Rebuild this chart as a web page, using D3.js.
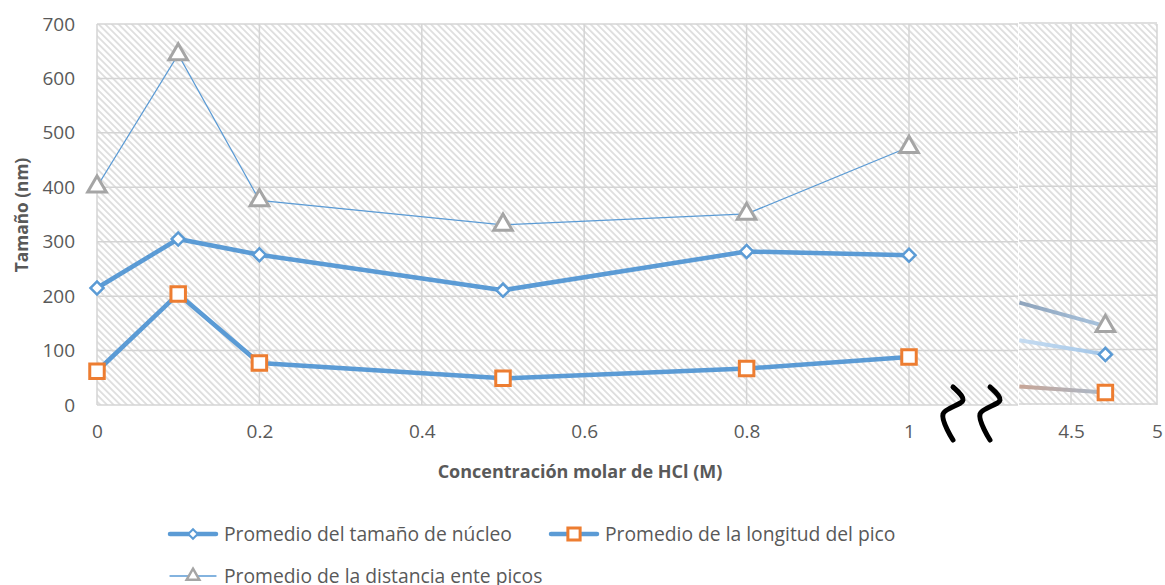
<!DOCTYPE html>
<html>
<head>
<meta charset="utf-8">
<script src="https://cdn.jsdelivr.net/npm/d3@7"></script>
<style>
  body { margin: 0; background: #fff; }
  text { font-family: "Open Sans", sans-serif; }
</style>
</head>
<body>
<div id="wrapper"></div>
<script>
// data
const concentrations = [0, 0.1, 0.2, 0.5, 0.8, 1]
const nucleo = [215, 305, 276, 211, 282, 275]
const longitudPico = [62, 204, 77, 49, 67, 88]
const distanciaPicos = [401, 644, 376, 331, 351, 474]

// the lone point after the axis break, plus where its stubs enter the panel
const farConcentration = 4.7
const farStartConcentration = 4.2
const farNucleo = [119, 93]
const farLongitud = [34, 23]
const farDistancia = [188, 145]

const yTicks = [0, 100, 200, 300, 400, 500, 600, 700]
const xTicksMain = [0, 0.2, 0.4, 0.6, 0.8, 1]
const xTicksFar = [4.5, 5]
const seriesNames = [
  "Promedio del tamaño de núcleo",
  "Promedio de la longitud del pico",
  "Promedio de la distancia ente picos"
]

async function drawChart() {
  const dimensions = {
    width: 1165,
    height: 585,
    left: 97,
    top: 24,
    bottom: 405,
    mainRight: 1018,
    farLeft: 1019,
    farRight: 1157,
  }

  const blue = "#5b9bd5"
  const orange = "#ed7d31"
  const grey = "#a5a5a5"
  const labelColor = "#595959"

  const svg = d3.select("#wrapper")
    .append("svg")
      .attr("width", dimensions.width)
      .attr("height", dimensions.height)

  const defs = svg.append("defs")
  const hatch = defs.append("pattern")
      .attr("id", "hatch")
      .attr("patternUnits", "userSpaceOnUse")
      .attr("width", 4.7)
      .attr("height", 10)
      .attr("patternTransform", "rotate(-45)")
  hatch.append("rect")
      .attr("width", 4.7).attr("height", 10).attr("fill", "#fff")
  hatch.append("rect")
      .attr("width", 1.8).attr("height", 10).attr("fill", "#dedede")

  // scales
  const yScale = d3.scaleLinear()
      .domain([0, 700])
      .range([dimensions.bottom, dimensions.top])
  const xMain = d3.scaleLinear()
      .domain([0, 1])
      .range([dimensions.left, 909])
  const xFar = d3.scaleLinear()
      .domain([4.5, 5])
      .range([1071, dimensions.farRight])

  // background panels
  svg.append("rect")
      .attr("x", dimensions.left)
      .attr("y", dimensions.top)
      .attr("width", dimensions.mainRight - dimensions.left)
      .attr("height", dimensions.bottom - dimensions.top)
      .attr("fill", "url(#hatch)")
  svg.append("rect")
      .attr("x", dimensions.farLeft)
      .attr("y", dimensions.top)
      .attr("width", dimensions.farRight - dimensions.farLeft)
      .attr("height", dimensions.bottom - dimensions.top)
      .attr("fill", "url(#hatch)")

  // gridlines
  const grid = svg.append("g")
      .attr("stroke", "#d4d4d4")
      .attr("stroke-width", 1.5)
  grid.selectAll(".hMain")
    .data(yTicks)
    .join("line")
      .attr("x1", dimensions.left)
      .attr("x2", dimensions.mainRight)
      .attr("y1", d => yScale(d))
      .attr("y2", d => yScale(d))
  grid.selectAll(".hFar")
    .data(yTicks)
    .join("line")
      .attr("class", "hFar")
      .attr("x1", dimensions.farLeft)
      .attr("x2", dimensions.farRight)
      .attr("y1", d => yScale(d) - 1)
      .attr("y2", d => yScale(d) - 1)
  grid.selectAll(".vMain")
    .data(xTicksMain)
    .join("line")
      .attr("class", "vMain")
      .attr("x1", d => xMain(d))
      .attr("x2", d => xMain(d))
      .attr("y1", dimensions.top)
      .attr("y2", dimensions.bottom)
  grid.selectAll(".vFar")
    .data(xTicksFar)
    .join("line")
      .attr("class", "vFar")
      .attr("x1", d => xFar(d))
      .attr("x2", d => xFar(d))
      .attr("y1", dimensions.top)
      .attr("y2", dimensions.bottom)

  // axes (labels only)
  const fmt = d3.format("~g")
  const yAxis = svg.append("g")
      .attr("transform", `translate(${dimensions.left},0)`)
      .call(d3.axisLeft(yScale).tickValues(yTicks).tickSize(0).tickPadding(22))
  const xAxisMain = svg.append("g")
      .attr("transform", `translate(0,${dimensions.bottom})`)
      .call(d3.axisBottom(xMain).tickValues(xTicksMain).tickFormat(fmt).tickSize(0).tickPadding(20))
  const xAxisFar = svg.append("g")
      .attr("transform", `translate(0,${dimensions.bottom})`)
      .call(d3.axisBottom(xFar).tickValues(xTicksFar).tickFormat(fmt).tickSize(0).tickPadding(20))
  ;[yAxis, xAxisMain, xAxisFar].forEach(axis => {
    axis.select(".domain").remove()
    axis.selectAll("text")
        .attr("fill", labelColor)
        .style("font-size", "19px")
        .style("font-family", "Open Sans, sans-serif")
  })

  // axis titles
  svg.append("text")
      .attr("transform", "translate(28,215) rotate(-90)")
      .attr("text-anchor", "middle")
      .attr("fill", labelColor)
      .style("font-size", "17.3px")
      .style("font-weight", "bold")
      .text("Tamaño (nm)")
  svg.append("text")
      .attr("x", 580)
      .attr("y", 478)
      .attr("text-anchor", "middle")
      .attr("fill", labelColor)
      .style("font-size", "18px")
      .style("font-weight", "bold")
      .text("Concentración molar de HCl (M)")

  // break marks
  const squiggle = d3.line().curve(d3.curveCatmullRom)
  const squiggleShape = [[0, 0], [10, 13], [-10, 27], [0, 53]]
  ;[44, 81].forEach(offset => {
    const x0 = xMain(1) + offset
    const y0 = yScale(0) - 18
    svg.append("path")
        .attr("d", squiggle(squiggleShape.map(([dx, dy]) => [x0 + dx, y0 + dy])))
        .attr("fill", "none")
        .attr("stroke", "#000")
        .attr("stroke-width", 5)
        .attr("stroke-linecap", "round")
  })

  // series lines (main panel)
  const lineGen = values => d3.line()
      .x((d, i) => xMain(concentrations[i]))
      .y(d => yScale(d))(values)

  svg.append("path")
      .attr("d", lineGen(distanciaPicos))
      .attr("fill", "none")
      .attr("stroke", blue)
      .attr("stroke-width", 1.3)
  svg.append("path")
      .attr("d", lineGen(nucleo))
      .attr("fill", "none")
      .attr("stroke", blue)
      .attr("stroke-width", 4.5)
      .attr("stroke-linejoin", "round")
  svg.append("path")
      .attr("d", lineGen(longitudPico))
      .attr("fill", "none")
      .attr("stroke", blue)
      .attr("stroke-width", 4.5)
      .attr("stroke-linejoin", "round")

  // stubs in the far panel (faded pieces of the cut-out lines)
  const stubs = [
    {values: farDistancia, from: "#8ea3bb", to: "#a9c4de", id: "gDist"},
    {values: farNucleo, from: "#c6dcf1", to: "#a3c6e8", id: "gNuc"},
    {values: farLongitud, from: "#c7a596", to: "#a9b9cb", id: "gLon"},
  ]
  stubs.forEach(s => {
    const g = defs.append("linearGradient")
        .attr("id", s.id)
        .attr("gradientUnits", "userSpaceOnUse")
        .attr("x1", xFar(farStartConcentration)).attr("x2", xFar(farConcentration))
        .attr("y1", 0).attr("y2", 0)
    g.append("stop").attr("offset", 0).attr("stop-color", s.from)
    g.append("stop").attr("offset", 1).attr("stop-color", s.to)
    svg.append("line")
        .attr("x1", xFar(farStartConcentration))
        .attr("y1", yScale(s.values[0]))
        .attr("x2", xFar(farConcentration))
        .attr("y2", yScale(s.values[1]))
        .attr("stroke", `url(#${s.id})`)
        .attr("stroke-width", 4)
  })

  // markers (diamond = rotated square, like Excel)
  const diamond = d3.symbol().type(d3.symbolSquare).size(85)
  const square = d3.symbol().type(d3.symbolSquare).size(210)
  const triangle = d3.symbol().type(d3.symbolTriangle).size(150)

  const drawMarkers = (points, sym, stroke, width, rot) => {
    svg.append("g").selectAll("path")
      .data(points)
      .join("path")
        .attr("transform", d => `translate(${d[0]},${d[1]}) rotate(${rot})`)
        .attr("d", sym)
        .attr("fill", "#fff")
        .attr("stroke", stroke)
        .attr("stroke-width", width)
  }
  const mainPts = values => values.map((v, i) => [xMain(concentrations[i]), yScale(v)])
  drawMarkers(mainPts(distanciaPicos).concat([[xFar(farConcentration), yScale(farDistancia[1])]]), triangle, grey, 3, 0)
  drawMarkers(mainPts(nucleo).concat([[xFar(farConcentration), yScale(farNucleo[1])]]), diamond, blue, 2.5, 45)
  drawMarkers(mainPts(longitudPico).concat([[xFar(farConcentration), yScale(farLongitud[1])]]), square, orange, 3, 0)

  // legend
  const legendItems = [
    {name: seriesNames[0], x: 170, y: 534, sym: d3.symbol().type(d3.symbolSquare).size(45), rot: 45, stroke: blue, mw: 2, lw: 4.5},
    {name: seriesNames[1], x: 551, y: 534, sym: d3.symbol().type(d3.symbolSquare).size(150), rot: 0, stroke: orange, mw: 3, lw: 4.5},
    {name: seriesNames[2], x: 170, y: 576, sym: d3.symbol().type(d3.symbolTriangle).size(70), rot: 0, stroke: grey, mw: 2.5, lw: 1.3},
  ]
  const legend = svg.append("g")
  legendItems.forEach(item => {
    const g = legend.append("g").attr("transform", `translate(${item.x},${item.y})`)
    g.append("line")
        .attr("x1", 0).attr("x2", 46)
        .attr("stroke", blue)
        .attr("stroke-width", item.lw)
        .attr("stroke-linecap", "round")
    g.append("path")
        .attr("transform", `translate(23,0) rotate(${item.rot})`)
        .attr("d", item.sym)
        .attr("fill", "#fff")
        .attr("stroke", item.stroke)
        .attr("stroke-width", item.mw)
    g.append("text")
        .attr("x", 54)
        .attr("dy", "0.35em")
        .attr("fill", labelColor)
        .style("font-size", "19.3px")
        .text(item.name)
  })
}
drawChart()
</script>
</body>
</html>
